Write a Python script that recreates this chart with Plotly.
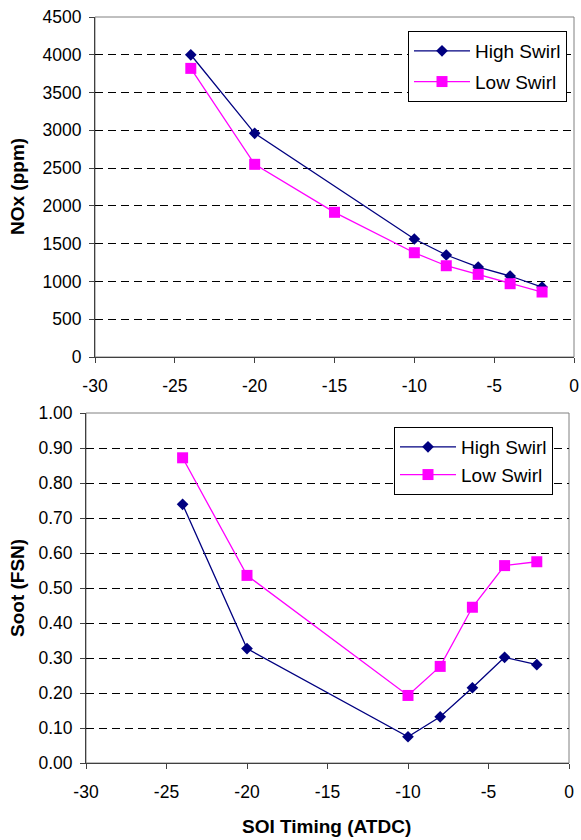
import plotly.graph_objects as go

soi_high = [-24, -20, -10, -8, -6, -4, -2]
soi_low = [-24, -20, -15, -10, -8, -6, -4, -2]
nox_high = [4000, 2960, 1562, 1350, 1190, 1072, 925]
nox_low = [3820, 2550, 1915, 1380, 1208, 1094, 970, 860]

soi_soot = [-24, -20, -10, -8, -6, -4, -2]
soot_high = [0.739, 0.327, 0.075, 0.132, 0.215, 0.302, 0.281]
soot_low = [0.872, 0.536, 0.193, 0.276, 0.445, 0.564, 0.575]

x_ticks = [-30, -25, -20, -15, -10, -5, 0]
x_ticktext = [str(v) for v in x_ticks]
nox_ticks = list(range(0, 4501, 500))
soot_ticks = [i / 10 for i in range(0, 11)]

NAVY = "#000080"
MAG = "#FF00FF"
FONT = "Liberation Sans, Arial, sans-serif"
W, H = 581, 840

fig = go.Figure()

def add(x, y, name, color, symbol, size, xa, ya, leg):
    fig.add_trace(go.Scatter(x=x, y=y, name=name, mode="lines+markers",
                             line=dict(color=color, width=1.3),
                             marker=dict(symbol=symbol, size=size, color=color),
                             xaxis=xa, yaxis=ya, legend=leg, legendgroup=leg + name))

add(soi_high, nox_high, "High Swirl", NAVY, "diamond", 9, "x", "y", "legend")
add(soi_low, nox_low, "Low Swirl", MAG, "square", 11, "x", "y", "legend")
add(soi_soot, soot_high, "High Swirl", NAVY, "diamond", 9, "x2", "y2", "legend2")
add(soi_soot, soot_low, "Low Swirl", MAG, "square", 11, "x2", "y2", "legend2")

tickfont = dict(family=FONT, size=17.5, color="black")
common_x = dict(range=[-30, 0], tickvals=x_ticks, ticktext=x_ticktext, ticks="outside", ticklen=5,
                tickcolor="#404040", showline=True, linecolor="#404040", linewidth=1,
                showgrid=False, zeroline=False, tickfont=tickfont, fixedrange=True,
                ticklabelstandoff=8, automargin=False)
common_y = dict(ticks="outside", ticklen=5, tickcolor="#404040", showline=True, linecolor="#404040",
                linewidth=1, showgrid=True, gridcolor="black", gridwidth=1, griddash="8px,5px",
                zeroline=False, tickfont=tickfont, fixedrange=True, ticklabelstandoff=4,
                automargin=False)

top_x = [95 / W, 574 / W]
top_y = [1 - 357 / H, 1 - 17 / H]
bot_x = [86 / W, 569 / W]
bot_y = [1 - 763 / H, 1 - 413 / H]

legfont = dict(family=FONT, size=19, color="black")

fig.update_layout(
    width=W, height=H,
    margin=dict(l=0, r=0, t=0, b=0, autoexpand=False),
    paper_bgcolor="white", plot_bgcolor="white",
    font=dict(family=FONT, color="black"),
    xaxis=dict(domain=top_x, anchor="y", **common_x),
    yaxis=dict(domain=top_y, anchor="x", range=[0, 4500], tickvals=nox_ticks, **common_y),
    xaxis2=dict(domain=bot_x, anchor="y2", **common_x),
    yaxis2=dict(domain=bot_y, anchor="x2", range=[0, 1.0], tickvals=soot_ticks,
                tickformat=".2f", **common_y),
    legend=dict(x=567 / W, y=1 - 31 / H, xanchor="right", yanchor="top",
                bordercolor="black", borderwidth=1, bgcolor="white",
                font=legfont, tracegroupgap=3, itemwidth=56),
    legend2=dict(x=553 / W, y=1 - 427 / H, xanchor="right", yanchor="top",
                 bordercolor="black", borderwidth=1, bgcolor="white",
                 font=legfont, tracegroupgap=0, itemwidth=56),
    showlegend=True,
)

for xr, yr in (("x domain", "y domain"), ("x2 domain", "y2 domain")):
    fig.add_shape(type="rect", xref=xr, yref=yr, x0=0, x1=1, y0=0, y1=1,
                  line=dict(color="#808080", width=1), layer="below")

titlefont = dict(family=FONT, size=19, color="black")
fig.add_annotation(text="<b>NOx (ppm)</b>", x=17 / W, y=1 - 187 / H, xref="paper", yref="paper",
                   xanchor="center", yanchor="middle",
                   textangle=-90, showarrow=False, font=titlefont)
fig.add_annotation(text="<b>Soot (FSN)</b>", x=17 / W, y=1 - 588 / H, xref="paper", yref="paper",
                   xanchor="center", yanchor="middle",
                   textangle=-90, showarrow=False, font=titlefont)
fig.add_annotation(text="<b>SOI Timing (ATDC)</b>", x=326 / W, y=1 - 826 / H, xref="paper",
                   yref="paper", xanchor="center", yanchor="middle",
                   showarrow=False, font=titlefont)

fig.write_html("out.html")
